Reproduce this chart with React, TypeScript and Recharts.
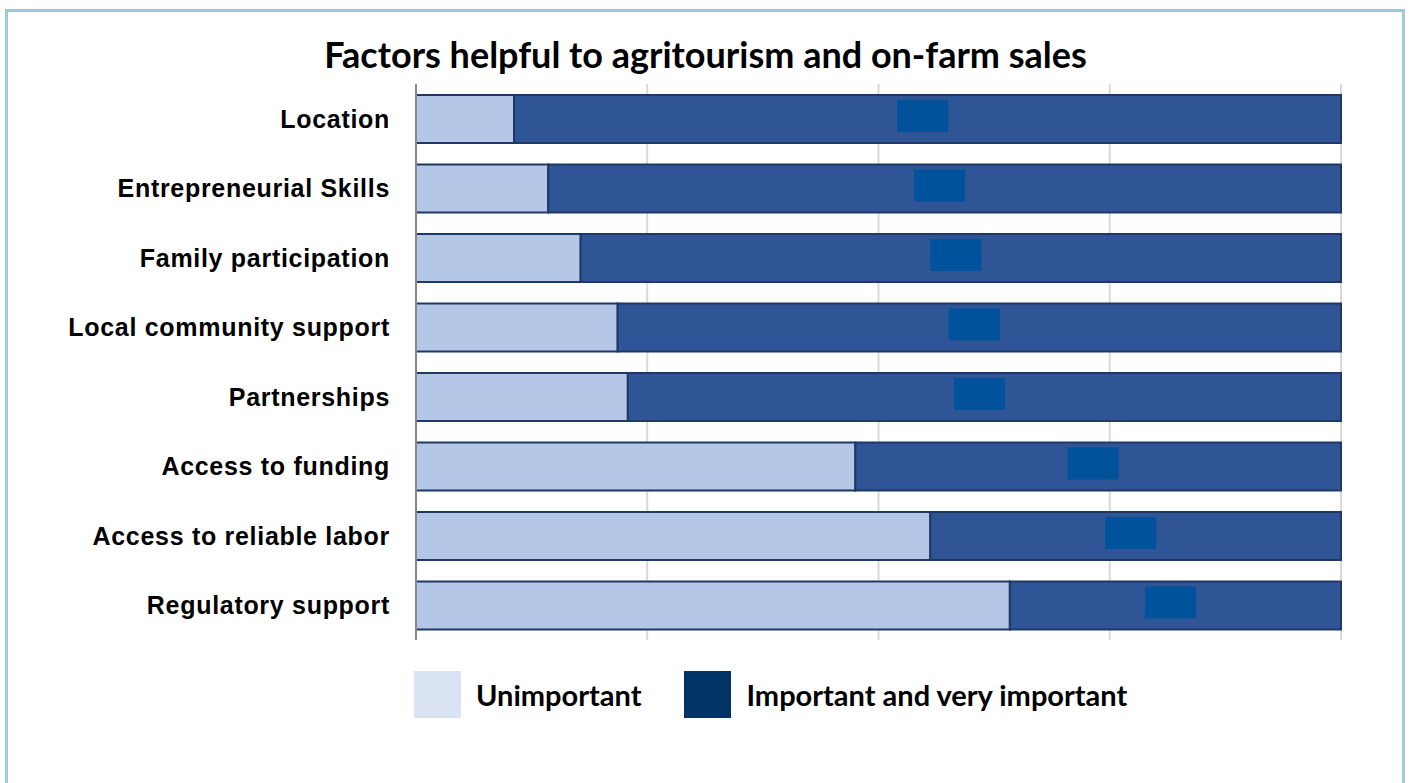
import { BarChart, Bar, XAxis, YAxis, CartesianGrid, LabelList } from 'recharts';

const factors = [
  'Location',
  'Entrepreneurial Skills',
  'Family participation',
  'Local community support',
  'Partnerships',
  'Access to funding',
  'Access to reliable labor',
  'Regulatory support',
];
const unimportant = [10.6, 14.3, 17.8, 21.8, 22.9, 47.5, 55.6, 64.2];
const important = [89.4, 85.7, 82.2, 78.2, 77.1, 52.5, 44.4, 35.8];
const xTicks = [0, 25, 50, 75, 100];

const data = factors.map((name, i) => ({
  name,
  unimportant: unimportant[i],
  important: important[i],
}));

// empty label boxes sitting inside the dark segment
const LabelBox = (props: any) => {
  const { x, y, width, height } = props;
  const w = 51;
  const h = 32;
  return (
    <rect
      x={x + width / 2 - w / 2 - 5}
      y={y + height / 2 - h / 2 - 3}
      width={w}
      height={h}
      fill="#00529b"
    />
  );
};

const App = () => {
  return (
    <div style={{ position: 'absolute', left: 0, top: 0, width: 1411, height: 783, background: '#fff', overflow: 'hidden' }}>
      <div
        style={{
          position: 'absolute',
          left: 5,
          top: 9,
          width: 1400,
          height: 820,
          border: '3px solid #a3c6da',
          boxSizing: 'border-box',
        }}
      />
      <div
        style={{
          position: 'absolute',
          left: 0,
          top: 32,
          width: 1411,
          textAlign: 'center',
          fontFamily: 'Lato',
          fontWeight: 700,
          fontSize: 36,
          color: '#000',
        }}
      >
        Factors helpful to agritourism and on-farm sales
      </div>
      <div style={{ position: 'absolute', left: 0, top: 0 }}>
        <BarChart
          width={1411}
          height={783}
          data={data}
          layout="vertical"
          margin={{ top: 84, right: 70, bottom: 143, left: 0 }}
          barSize={48}
        >
          <CartesianGrid horizontal={false} stroke="#d9d9d9" strokeWidth={2} />
          <XAxis type="number" domain={[0, 100]} ticks={xTicks} hide />
          <YAxis
            type="category"
            dataKey="name"
            width={416}
            axisLine={{ stroke: '#888888', strokeWidth: 2 }}
            tickLine={false}
            tickMargin={20}
            tick={{ fill: '#000', fontFamily: 'Liberation Sans', fontWeight: 700, fontSize: 25, letterSpacing: 0.7 }}
          />
          <Bar
            dataKey="unimportant"
            stackId="a"
            fill="#b4c7e7"
            stroke="#1f3864"
            strokeWidth={2}
            isAnimationActive={false}
          />
          <Bar
            dataKey="important"
            stackId="a"
            fill="#2f5597"
            stroke="#1f3864"
            strokeWidth={2}
            isAnimationActive={false}
          >
            <LabelList dataKey="important" content={<LabelBox />} />
          </Bar>
        </BarChart>
      </div>
      <div
        style={{
          position: 'absolute',
          left: 414,
          top: 671,
          display: 'flex',
          alignItems: 'center',
          fontFamily: 'Lato',
          fontWeight: 700,
          fontSize: 29,
          color: '#000',
        }}
      >
        <div style={{ width: 47, height: 47, background: '#dae3f3' }} />
        <span style={{ marginLeft: 15, marginRight: 43 }}>Unimportant</span>
        <div style={{ width: 47, height: 47, background: '#003366' }} />
        <span style={{ marginLeft: 15 }}>Important and very important</span>
      </div>
    </div>
  );
};

export default App;
